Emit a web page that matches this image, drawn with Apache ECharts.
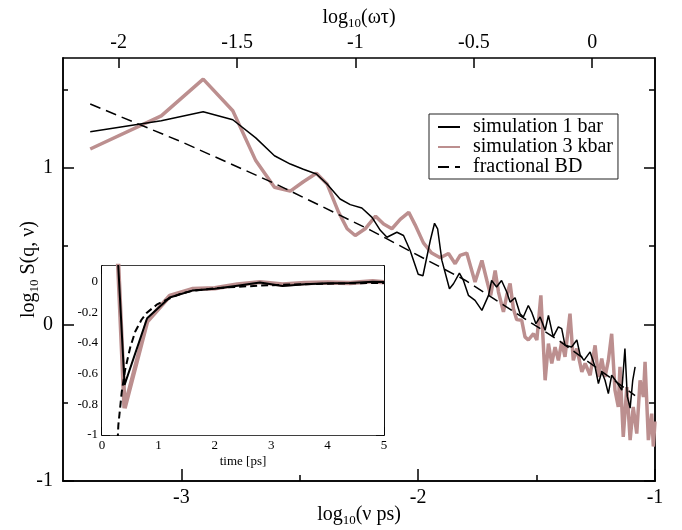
<!DOCTYPE html>
<html><head><meta charset="utf-8">
<script src="https://cdn.jsdelivr.net/npm/echarts@6/dist/echarts.min.js"></script>
<style>html,body{margin:0;padding:0;background:#fff}#c{width:682px;height:530px}</style>
</head><body><div id="c"></div>
<script>
// ---- main plot data: log10(nu ps) vs log10 S(q,nu) ----
const logNu1 = [-3.385,-3.085,-2.908,-2.783,-2.686,-2.607,-2.540,-2.485,-2.43,-2.385,-2.33,-2.287,-2.238,-2.195,-2.16,-2.132,-2.09,-2.062,-2.034,-2.0,-1.98,-1.949,-1.931,-1.918,-1.90,-1.868,-1.851,-1.826,-1.809,-1.788,-1.76,-1.731,-1.703,-1.69,-1.669,-1.648,-1.626,-1.612,-1.591,-1.570,-1.556,-1.535,-1.521,-1.503,-1.485,-1.464,-1.45,-1.43,-1.408,-1.394,-1.38,-1.352,-1.33,-1.316,-1.30,-1.274,-1.253,-1.239,-1.225,-1.211,-1.197,-1.183,-1.162,-1.14,-1.127,-1.117,-1.105,-1.094,-1.084];
const sim1bar = [1.229,1.30,1.357,1.306,1.19,1.076,1.023,0.99,0.96,0.896,0.80,0.764,0.743,0.683,0.60,0.556,0.588,0.567,0.471,0.32,0.31,0.535,0.645,0.61,0.408,0.227,0.259,0.327,0.28,0.185,0.153,0.089,0.185,0.28,0.238,0.28,0.206,0.142,0.17,0.068,0.047,0.12,0.078,0.004,0.047,-0.038,0.057,-0.08,-0.016,-0.027,-0.134,-0.145,-0.10,-0.196,-0.23,-0.176,-0.272,-0.378,-0.304,-0.357,-0.442,-0.325,-0.368,-0.42,-0.155,-0.46,-0.535,-0.357,-0.272];

const logNu3 = [-3.385,-3.085,-2.908,-2.783,-2.686,-2.607,-2.540,-2.485,-2.43,-2.385,-2.336,-2.30,-2.266,-2.224,-2.18,-2.146,-2.111,-2.076,-2.04,-2.013,-1.978,-1.943,-1.907,-1.872,-1.844,-1.823,-1.795,-1.76,-1.731,-1.71,-1.694,-1.675,-1.661,-1.64,-1.626,-1.612,-1.598,-1.584,-1.563,-1.549,-1.535,-1.513,-1.499,-1.482,-1.464,-1.45,-1.436,-1.422,-1.408,-1.394,-1.380,-1.359,-1.345,-1.330,-1.309,-1.295,-1.274,-1.253,-1.239,-1.225,-1.211,-1.197,-1.183,-1.169,-1.155,-1.148,-1.134,-1.119,-1.105,-1.092,-1.077,-1.063,-1.049,-1.042,-1.028,-1.014,-1.007,-1.0];
const sim3kbar = [1.119,1.331,1.565,1.363,1.045,0.875,0.85,0.91,0.964,0.896,0.715,0.61,0.567,0.61,0.69,0.64,0.61,0.67,0.715,0.635,0.52,0.455,0.425,0.452,0.387,0.44,0.455,0.27,0.408,0.28,0.185,0.344,0.206,0.08,0.185,0.26,0.10,0.03,0.026,-0.08,-0.10,-0.06,-0.10,0.185,-0.357,-0.123,-0.25,-0.145,-0.23,-0.112,-0.208,0.068,-0.23,-0.155,-0.304,-0.25,-0.325,-0.134,-0.336,-0.218,-0.336,-0.23,-0.06,-0.42,-0.527,-0.272,-0.718,-0.40,-0.739,-0.527,-0.697,-0.357,-0.463,-0.24,-0.739,-0.57,-0.78,-0.62];

const logNuBD = [-3.385,-3.0,-2.6,-2.2,-1.8,-1.4,-1.084];
const fracBD = [1.406,1.165,0.895,0.60,0.28,-0.11,-0.455];

// ---- inset data: time [ps] ----
const tSim = [0,0.4,0.8,1.2,1.6,2.0,2.4,2.8,3.2,3.6,4.0,4.4,4.8,5.0];
const inset1bar = [2.1,-0.674,-0.24,-0.105,-0.06,-0.048,-0.028,-0.008,-0.03,-0.018,-0.012,-0.01,-0.002,-0.004];
const inset3kbar = [2.48,-0.826,-0.261,-0.095,-0.05,-0.045,-0.02,-0.005,-0.02,-0.01,-0.008,-0.01,0.0,-0.005];
const tBD = [0.25,0.29,0.35,0.41,0.5,0.59,0.7,0.79,0.97,1.17,1.4,1.6,2.0,2.4,2.8,3.2,3.6,4.0,4.5,5.0];
const insetBD = [-1.25,-0.935,-0.72,-0.576,-0.43,-0.326,-0.25,-0.206,-0.152,-0.115,-0.08,-0.062,-0.045,-0.035,-0.028,-0.022,-0.018,-0.015,-0.012,-0.01];

// ---- ticks ----
const xMajor = [-3,-2,-1];
const xMinor = [-2.5,-1.5];
const topTicks = [-2,-1.5,-1,-0.5,0];
const yMajor = [-1,0,1];
const yMinor = [-0.5,0.5,1.5];
const insetYMajor = [-1,-0.8,-0.6,-0.4,-0.2,0];
const insetYMinor = [-0.9,-0.7,-0.5,-0.3,-0.1];

const F = 'Liberation Serif';
const zip = (a,b) => a.map((v,i)=>[v,b[i]]);
const BLK = '#000', PINK = '#bc8f8f';
const rich = (big, small) => ({
  a:{fontFamily:F,fontSize:big,color:BLK},
  s:{fontFamily:F,fontSize:small,color:BLK,padding:[Math.round(big*0.6),0,0,0]}
});

function ax(o){
  const base = {
    type:'value', splitLine:{show:false}, nameMoveOverlap:false,
    axisLine:{show:true,onZero:false,lineStyle:{color:BLK,width:1.5}},
    axisTick:{show:true,inside:true,length:o.len||8,lineStyle:{color:BLK,width:1.5}},
    axisLabel:{show:false}
  };
  if(o.ticks) base.axisTick.customValues = o.ticks;
  if(o.labels){ base.axisLabel = {show:true,customValues:o.labels,fontFamily:F,fontSize:o.fs||20,color:BLK,margin:o.margin||6,formatter:v=>String(v)}; }
  delete o.len; delete o.ticks; delete o.labels; delete o.fs; delete o.margin;
  return Object.assign(base,o);
}

const chart = echarts.init(document.getElementById('c'),null,{renderer:'canvas'});
chart.setOption({
  animation:false,
  backgroundColor:'#fff',
  grid:[
    {left:63,top:58,right:27,bottom:49,containLabel:false,outerBoundsMode:'none'},
    {left:102,top:266,width:282,height:169,show:true,backgroundColor:'#fff',borderWidth:0,z:5,containLabel:false,outerBoundsMode:'none'}
  ],
  legend:{
    data:['simulation 1 bar','simulation 3 kbar','fractional BD'],
    orient:'vertical',left:429,top:114,
    borderColor:'#222',borderWidth:1,backgroundColor:'#fff',
    padding:[3,5,2,8],itemWidth:22,itemHeight:14,itemGap:0,selectedMode:false,
    itemStyle:{opacity:0},
    textStyle:{fontFamily:F,fontSize:20,color:BLK,lineHeight:20,padding:[0,0,0,8]}
  },
  xAxis:[
    ax({gridIndex:0,position:'bottom',min:-3.5,max:-1,len:12,ticks:xMajor,labels:xMajor,margin:7,
        name:'{a|log}{s|10}{a|(ν ps)}',nameLocation:'middle',nameGap:21,nameTextStyle:{rich:rich(20,13)}}),
    ax({gridIndex:0,position:'bottom',min:-3.5,max:-1,len:6,ticks:xMinor}),
    ax({gridIndex:0,position:'top',min:-2.235,max:0.265,len:10,ticks:topTicks,labels:topTicks,margin:5,
        name:'{a|log}{s|10}{a|(ωτ)}',nameLocation:'middle',nameGap:28,nameTextStyle:{rich:rich(20,13)}}),
    Object.assign(ax({gridIndex:1,position:'bottom',min:0,max:5,interval:1,len:8,fs:13,margin:3,
        name:'time [ps]',nameLocation:'middle',nameGap:20,nameTextStyle:{fontFamily:F,fontSize:13,color:BLK}}),
        {axisLabel:{show:true,fontFamily:F,fontSize:13,color:BLK,margin:4},minorTick:{show:true,splitNumber:2,length:4,lineStyle:{color:BLK,width:1.5}}}),
    Object.assign(ax({gridIndex:1,position:'top',min:0,max:5,interval:1,len:8}),
        {minorTick:{show:true,splitNumber:2,length:4,lineStyle:{color:BLK,width:1.5}}})
  ],
  yAxis:[
    ax({gridIndex:0,position:'left',min:-1,max:1.7,len:11,ticks:yMajor,labels:yMajor,margin:10,
        name:'{a|log}{s|10}{a| S(q, ν)}',nameLocation:'middle',nameGap:22,nameTextStyle:{rich:rich(20,13)}}),
    ax({gridIndex:0,position:'left',min:-1,max:1.7,len:5,ticks:yMinor}),
    ax({gridIndex:0,position:'right',min:-1,max:1.7,len:11,ticks:yMajor}),
    ax({gridIndex:0,position:'right',min:-1,max:1.7,len:6,ticks:yMinor}),
    ax({gridIndex:1,position:'left',min:-1,max:0.1,len:8,ticks:insetYMajor,labels:insetYMajor,fs:13,margin:4}),
    ax({gridIndex:1,position:'left',min:-1,max:0.1,len:4,ticks:insetYMinor}),
    ax({gridIndex:1,position:'right',min:-1,max:0.1,len:8,ticks:insetYMajor}),
    ax({gridIndex:1,position:'right',min:-1,max:0.1,len:4,ticks:insetYMinor})
  ],
  series:[
    {name:'simulation 3 kbar',type:'line',xAxisIndex:0,yAxisIndex:0,data:zip(logNu3,sim3kbar),symbol:'none',
      lineStyle:{color:PINK,width:3.5},itemStyle:{color:PINK},z:2},
    {name:'simulation 1 bar',type:'line',xAxisIndex:0,yAxisIndex:0,data:zip(logNu1,sim1bar),symbol:'none',
      lineStyle:{color:BLK,width:1.5},itemStyle:{color:BLK},z:3},
    {name:'fractional BD',type:'line',xAxisIndex:0,yAxisIndex:0,data:zip(logNuBD,fracBD),symbol:'none',
      lineStyle:{color:BLK,width:1.5,type:[11,6]},itemStyle:{color:BLK},z:4},
    {name:'inset 3 kbar',type:'line',xAxisIndex:3,yAxisIndex:4,data:zip(tSim,inset3kbar),symbol:'none',clip:true,
      lineStyle:{color:PINK,width:4.5},itemStyle:{color:PINK},z:6},
    {name:'inset 1 bar',type:'line',xAxisIndex:3,yAxisIndex:4,data:zip(tSim,inset1bar),symbol:'none',clip:true,
      lineStyle:{color:BLK,width:2},itemStyle:{color:BLK},z:7},
    {name:'inset BD',type:'line',xAxisIndex:3,yAxisIndex:4,data:zip(tBD,insetBD),symbol:'none',clip:true,
      lineStyle:{color:BLK,width:2,type:[7,4]},itemStyle:{color:BLK},z:8}
  ]
});
</script></body></html>
